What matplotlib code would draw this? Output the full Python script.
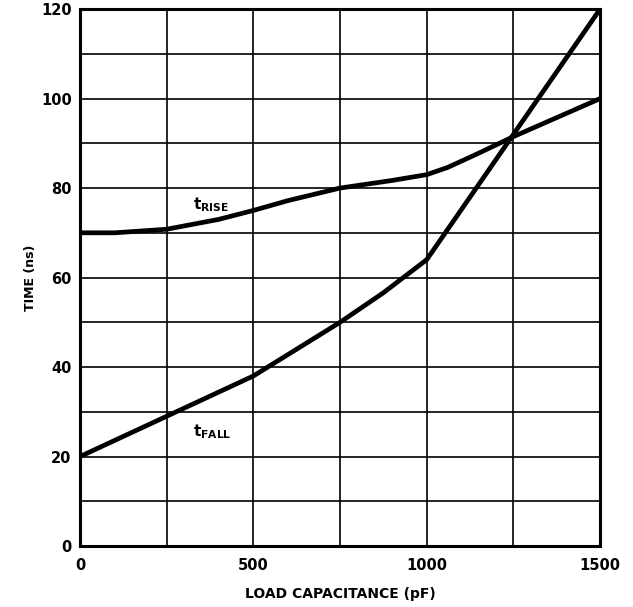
import matplotlib
matplotlib.use("Agg")
import matplotlib.pyplot as plt
import numpy as np

# load capacitance (pF) vs time (ns)
rise_x = [0, 100, 250, 400, 500, 600, 750, 900, 1000, 1060, 1150, 1250, 1500]
rise_y = [70, 70, 70.8, 73, 75, 77.2, 80, 81.7, 83, 84.6, 87.8, 91.5, 100]
fall_x = [0, 250, 500, 750, 875, 1000, 1250, 1500]
fall_y = [20, 29, 38, 50, 56.6, 64, 92, 120]

x_ticks = [0, 500, 1000, 1500]
y_ticks = [0, 20, 40, 60, 80, 100, 120]

plt.rcParams['font.family'] = ['DejaVu Sans']
plt.rcParams['mathtext.fontset'] = 'custom'
plt.rcParams['mathtext.bf'] = 'DejaVu Sans:bold'

fig = plt.figure(figsize=(6.33, 6.07), dpi=100)
ax = fig.add_axes([0.1264, 0.1005, 0.8216, 0.8845])

# grid
for gx in np.arange(0, 1501, 250):
    ax.axvline(gx, color='black', lw=1.2, zorder=1)
for gy in np.arange(0, 121, 10):
    ax.axhline(gy, color='black', lw=1.2, zorder=1)

ax.plot(rise_x, rise_y, color='black', lw=3.4, solid_capstyle='butt',
        solid_joinstyle='round', zorder=3)
ax.plot(fall_x, fall_y, color='black', lw=3.4, solid_capstyle='butt',
        solid_joinstyle='round', zorder=3)

ax.text(326, 76.2, r'$\mathbf{t}_{\mathbf{RISE}}$', fontsize=11, ha='left', va='center')
ax.text(326, 25.5, r'$\mathbf{t}_{\mathbf{FALL}}$', fontsize=11, ha='left', va='center')

ax.set_xlim(0, 1500)
ax.set_ylim(0, 120)
ax.set_xticks(x_ticks)
ax.set_yticks(y_ticks)
ax.tick_params(axis='x', length=0, pad=9, labelsize=10.5)
ax.tick_params(axis='y', length=0, pad=6, labelsize=10.5)
for lab in ax.get_xticklabels() + ax.get_yticklabels():
    lab.set_fontweight('bold')
for s in ax.spines.values():
    s.set_linewidth(2.2)

ax.set_xlabel('LOAD CAPACITANCE (pF)', fontsize=10, fontweight='bold', labelpad=10)
ax.set_ylabel('TIME (ns)', fontsize=9, fontweight='bold', labelpad=3)

fig.savefig('out.png', dpi=100)
